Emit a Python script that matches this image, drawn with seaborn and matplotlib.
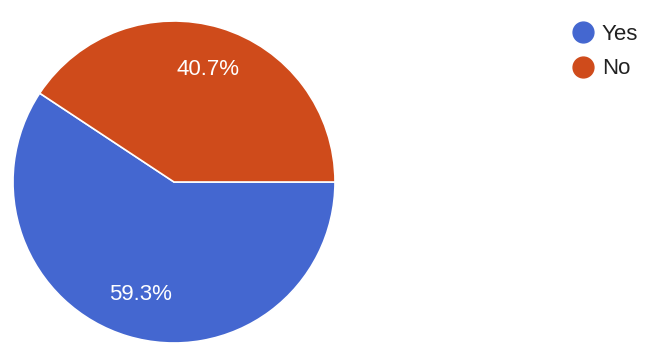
import matplotlib
matplotlib.use("Agg")
import matplotlib.pyplot as plt
from matplotlib.lines import Line2D
import seaborn as sns

categories = ["Yes", "No"]
values = [59.3, 40.7]
colors = ["#4467D0", "#CF4B1B"]

sns.set_theme(style="white")
plt.rcParams['font.family'] = ['Liberation Sans', 'DejaVu Sans']

W, H = 650, 358
fig = plt.figure(figsize=(W / 100, H / 100), dpi=100)
cx, cy, r = 174, 182, 161
ax = fig.add_axes([(cx - r) / W, (H - cy - r) / H, 2 * r / W, 2 * r / H])

wedges, texts, autotexts = ax.pie(
    values, colors=colors, startangle=0, counterclock=False,
    autopct='%1.1f%%', pctdistance=0.73, radius=1.0,
    wedgeprops=dict(edgecolor='white', linewidth=1.2),
    textprops=dict(color='white', fontsize=16))
ax.set_xlim(-1, 1)
ax.set_ylim(-1, 1)
ax.set_aspect('equal')
ax.axis('off')

handles = [Line2D([0], [0], marker='o', linestyle='', markersize=15,
                  markerfacecolor=c, markeredgecolor=c) for c in colors]
fig.legend(handles, categories, loc='upper left',
           bbox_to_anchor=(572 / W, 1 - 24 / H), frameon=False,
           fontsize=16, labelcolor='#222222', handlelength=1.0,
           handletextpad=0.35, labelspacing=0.6, borderaxespad=0, borderpad=0)

fig.savefig("out.png", dpi=100, facecolor='white')
